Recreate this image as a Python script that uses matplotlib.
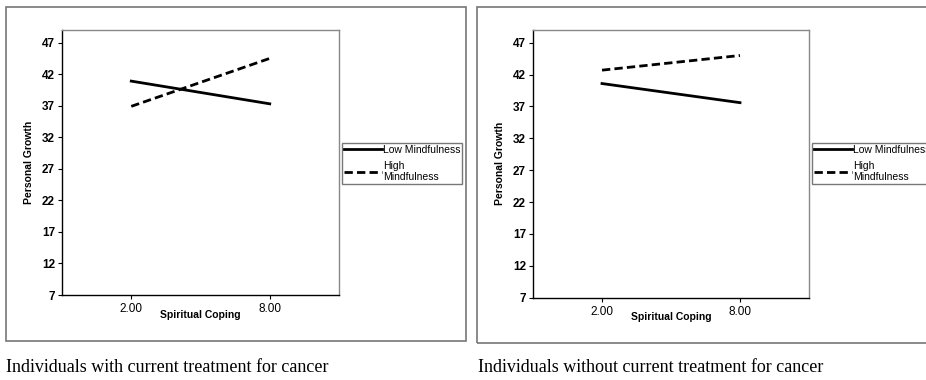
import matplotlib
matplotlib.use("Agg")
import matplotlib.pyplot as plt
from matplotlib.patches import Rectangle

plt.rcParams['font.family'] = ['Liberation Sans', 'DejaVu Sans']

# data
x_labels = ["2.00", "8.00"]
y_ticks = [7, 12, 17, 22, 27, 32, 37, 42, 47]
series_names = ["Low Mindfulness", "High\nMindfulness"]

with_low = [40.9, 37.3]
with_high = [36.9, 44.5]
without_low = [40.6, 37.6]
without_high = [42.7, 45.0]

captions = ["Individuals with current treatment for cancer",
            "Individuals without current treatment for cancer"]

W, H = 926, 380
fig = plt.figure(figsize=(W / 100, H / 100), dpi=100)
fig.patch.set_facecolor("white")


def px(x0, y0, x1, y1):
    # pixel box (top-left origin) -> figure fraction rect
    return [x0 / W, 1 - y1 / H, (x1 - x0) / W, (y1 - y0) / H]


def panel(rect, low, high, leg_xy, frame, caption, cap_x):
    fr = px(*frame)
    fig.patches.append(Rectangle((fr[0], fr[1]), fr[2], fr[3], transform=fig.transFigure,
                                 fill=False, edgecolor="#777777", lw=1.2))
    ax = fig.add_axes(px(*rect))
    xs = [1, 2]
    l1, = ax.plot(xs, low, color="black", lw=2.0, ls="-")
    l2, = ax.plot(xs, high, color="black", lw=2.0, ls=(0, (3, 1.5)))
    ax.set_xlim(0.5, 2.5)
    ax.set_ylim(7, 49)
    ax.set_yticks(y_ticks)
    ax.set_yticklabels([str(t) for t in y_ticks], fontsize=8.5, fontweight="bold")
    ax.set_xticks(xs)
    ax.set_xticklabels(x_labels, fontsize=8.5)
    ax.tick_params(axis="both", length=3, width=0.8, pad=2, direction="out")
    ax.tick_params(axis="x", length=3, pad=3)
    for s in ["top", "right"]:
        ax.spines[s].set_color("#888888")
        ax.spines[s].set_linewidth(1.0)
    for s in ["left", "bottom"]:
        ax.spines[s].set_color("black")
        ax.spines[s].set_linewidth(1.0)
    ax.set_xlabel("Spiritual Coping", fontsize=7.5, fontweight="bold", labelpad=-4)
    ax.set_ylabel("Personal Growth", fontsize=7.5, fontweight="bold", labelpad=6)
    lx, ly = leg_xy
    leg = ax.legend([l1, l2], series_names, loc="upper left",
                    bbox_to_anchor=(lx / W, 1 - ly / H), bbox_transform=fig.transFigure,
                    fontsize=7.5, frameon=True, fancybox=False, handlelength=3.6,
                    handletextpad=0.1, borderpad=0.2, labelspacing=0.6,
                    borderaxespad=0)
    leg.get_frame().set_edgecolor("#555555")
    leg.get_frame().set_linewidth(1.0)
    for t in leg.get_texts():
        t.set_linespacing(1.05)
    fig.text(cap_x / W, 1 - 367 / H, caption, family="Liberation Serif",
             fontsize=13, va="center", ha="left")
    return ax


panel((62, 30, 339, 295), with_low, with_high, (342, 143), (6, 7, 466, 341),
      captions[0], 6)
panel((533, 30, 809, 297.7), without_low, without_high, (812, 143), (477, 7, 931, 343),
      captions[1], 478)

fig.savefig("out.png", dpi=100, facecolor="white")
